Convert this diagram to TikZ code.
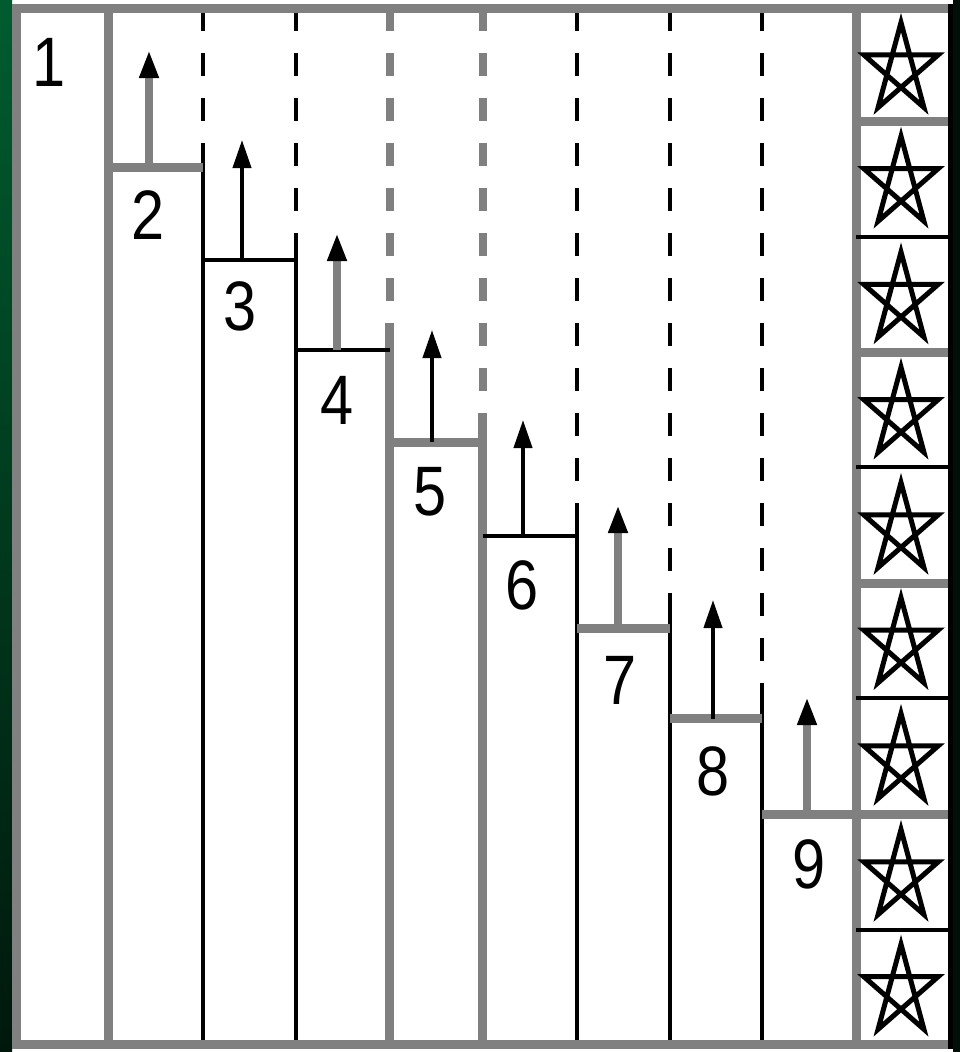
\documentclass[tikz,border=0pt]{standalone}
\usepackage{fontspec}
\newfontfamily\numfont[FakeStretch=0.85]{Liberation Sans}
\usetikzlibrary{arrows.meta}
\definecolor{gr}{HTML}{808080}
\definecolor{bgA}{HTML}{005C30}
\definecolor{bgB}{HTML}{00180C}
\definecolor{bgC}{HTML}{001008}
\tikzset{
  gthick/.style={draw=gr, line width=9pt},
  bthin/.style={draw=black, line width=4pt},
  gdash/.style={draw=gr, line width=8pt, dash pattern=on 23pt off 22pt},
  bdash/.style={draw=black, line width=4pt, dash pattern=on 23pt off 22pt},
  garrow/.style={draw=gr, line width=8pt, -{Triangle[width=18pt,length=28pt,color=black]}},
  barrow/.style={draw=black, line width=4pt, -{Triangle[width=18pt,length=28pt]}},
  num/.style={font=\numfont\fontsize{70}{70}\selectfont, inner sep=0pt},
  starline/.style={draw=black, line width=5pt, line join=miter},
  pstar/.pic={\draw[starline] (0,-47) -- (22.92,38.02) -- (-37.09,-14.52) -- (37.09,-14.52) -- (-22.92,38.02) -- cycle;}
}
\begin{document}
\begin{tikzpicture}[x=1pt,y=-1pt]
\useasboundingbox (0,0) rectangle (960,1052);
\fill[white] (0,0) rectangle (960,1052);
\shade[top color=bgA, bottom color=bgB] (0,0) rectangle (12,1052);
\fill[bgC] (953,0) rectangle (960,1052);

% column boundaries
\draw[gthick] (108,8) -- (108,1044);
\draw[bdash] (203,8) -- (203,143);   \draw[bthin] (203,143) -- (203,1044);
\draw[bdash] (295.5,8) -- (295.5,233); \draw[bthin] (295.5,233) -- (295.5,1044);
\draw[gdash] (389.5,8) -- (389.5,323); \draw[gthick] (389.5,323) -- (389.5,1044);
\draw[gdash] (482.5,8) -- (482.5,413); \draw[gthick] (482.5,413) -- (482.5,1044);
\draw[bdash] (577,8) -- (577,503);   \draw[bthin] (577,503) -- (577,1044);
\draw[bdash] (669.5,8) -- (669.5,593); \draw[bthin] (669.5,593) -- (669.5,1044);
\draw[bdash] (761.5,8) -- (761.5,683); \draw[bthin] (761.5,683) -- (761.5,1044);
\draw[gthick] (856,8) -- (856,1044);

% steps
\draw[gthick] (108,167) -- (203,167);
\draw[bthin] (203,259.5) -- (295.5,259.5);
\draw[bthin] (295.5,350) -- (389.5,350);
\draw[gthick] (389.5,442) -- (482.5,442);
\draw[bthin] (482.5,535.5) -- (577,535.5);
\draw[gthick] (577,628.5) -- (669.5,628.5);
\draw[gthick] (669.5,718.5) -- (761.5,718.5);
\draw[gthick] (761.5,814.5) -- (950,814.5);

% star row separators
\draw[gthick] (856,121) -- (950,121);
\draw[bthin] (856,236.5) -- (950,236.5);
\draw[gthick] (856,352.5) -- (950,352.5);
\draw[bthin] (856,467) -- (950,467);
\draw[gthick] (856,583) -- (950,583);
\draw[bthin] (856,697.5) -- (950,697.5);
\draw[bthin] (856,929.5) -- (950,929.5);

% arrows
\coordinate (b2) at (149,167);   \coordinate (t2) at (149,50);
\coordinate (b3) at (242,259.5); \coordinate (t3) at (242,140);
\coordinate (b4) at (337,350);   \coordinate (t4) at (337,233);
\coordinate (b5) at (432,442);   \coordinate (t5) at (432,330);
\coordinate (b6) at (523,535.5); \coordinate (t6) at (523,420);
\coordinate (b7) at (618,628.5); \coordinate (t7) at (618,505);
\coordinate (b8) at (713,718.5); \coordinate (t8) at (713,600);
\coordinate (b9) at (807,814.5); \coordinate (t9) at (807,697);
\draw[garrow] (b2) -- (t2);
\draw[barrow] (b3) -- (t3);
\draw[garrow] (b4) -- (t4);
\draw[barrow] (b5) -- (t5);
\draw[barrow] (b6) -- (t6);
\draw[garrow] (b7) -- (t7);
\draw[barrow] (b8) -- (t8);
\draw[garrow] (b9) -- (t9);

% labels
\node[num] (n1) at (49,62) {1};
\node[num] (n2) at (148,215) {2};
\node[num] (n3) at (240,306) {3};
\node[num] (n4) at (337,400) {4};
\node[num] (n5) at (430,492) {5};
\node[num] (n6) at (522,585) {6};
\node[num] (n7) at (620,680) {7};
\node[num] (n8) at (713,771) {8};
\node[num] (n9) at (809,864) {9};

% stars
\foreach \yy in {69.5,183.25,299,414.25,529.5,644.75,760.5,876.5,991.25}
  \pic at (901,\yy) {pstar};

% frame
\draw[gthick] (12,8.5) -- (950,8.5);
\draw[gthick] (16.5,4) -- (16.5,1049);
\draw[gthick] (12,1044) -- (953,1044);
\draw[draw=black, line width=5pt] (950.5,4) -- (950.5,1049);
\end{tikzpicture}
\end{document}
